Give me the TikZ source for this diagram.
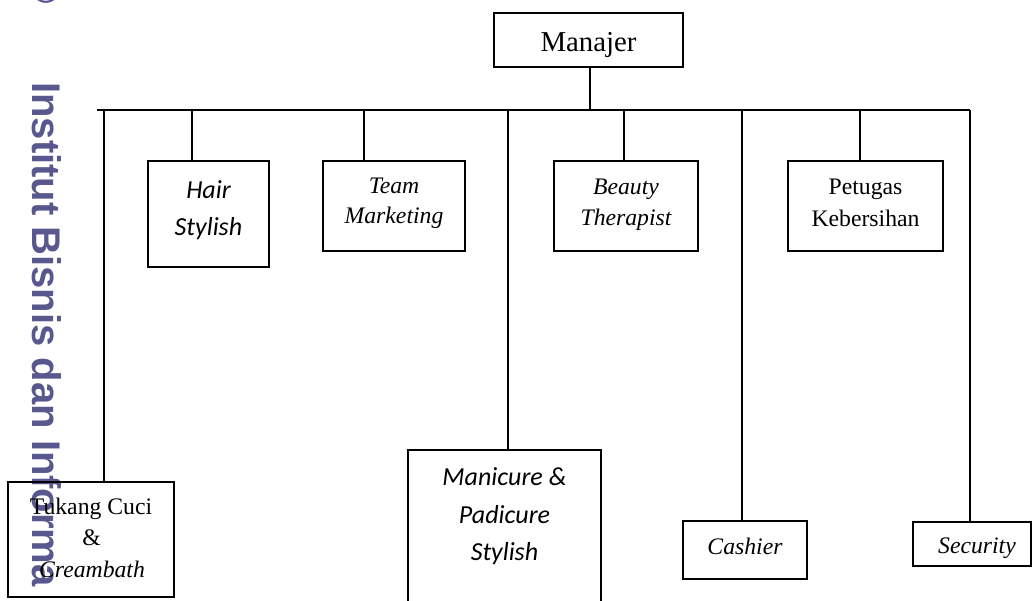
\documentclass[tikz,border=0pt]{standalone}
\usepackage{fontspec}
\setmainfont{Liberation Serif}
\newfontfamily\calfont{Carlito}
\newfontfamily\wmfont{Liberation Sans}
\definecolor{wmcol}{RGB}{88,88,142}
\begin{document}
\begin{tikzpicture}[x=1pt,y=-1pt,
  box/.style={draw,line width=1.9pt,inner sep=0pt},
  ln/.style={line width=1.9pt},
  tx/.style={anchor=base,inner sep=0pt,font=\fontsize{23.7}{28}\selectfont},
  txi/.style={tx,font=\fontsize{23.7}{28}\selectfont\itshape},
  txc/.style={anchor=base,inner sep=0pt,font=\fontsize{26}{30}\calfont\itshape},
  wm/.style={rotate=-90,anchor=base west,inner sep=0pt,text=wmcol,font=\fontsize{40}{44}\wmfont\bfseries}]
\useasboundingbox (0,0) rectangle (1032,600);
\clip (0,0) rectangle (1032,600);
% watermark
\node[wm] (wmark) at (32,82) {Institut Bisnis dan Informa};
\node[wm,anchor=base east] (wmc) at (32,4) {©};
% boxes
\node[box,minimum width=189pt,minimum height=54pt] (mgr) at (588.5,40) {};
\node[box,minimum width=121pt,minimum height=106pt] (hair) at (208.5,214) {};
\node[box,minimum width=142pt,minimum height=90pt] (team) at (394,206) {};
\node[box,minimum width=144pt,minimum height=90pt] (beauty) at (626,206) {};
\node[box,minimum width=155pt,minimum height=90pt] (petugas) at (865.5,206) {};
\node[box,minimum width=166pt,minimum height=115pt] (tukang) at (91,539.5) {};
\node[box,minimum width=193pt,minimum height=190pt] (mani) at (504.5,545) {};
\node[box,minimum width=124pt,minimum height=58pt] (cashier) at (745,550) {};
\node[box,minimum width=118pt,minimum height=44pt] (security) at (972,544) {};
% texts
\node[tx,font=\fontsize{28.8}{34}\selectfont] (mgr-t) at (588.5,51) {Manajer};
\node[txc] (hair-t1) at (208.5,198) {Hair};
\node[txc] (hair-t2) at (208.5,235) {Stylish};
\node[txi] (team-t1) at (394,193.5) {Team};
\node[txi] (team-t2) at (394,223.5) {Marketing};
\node[txi] (beauty-t1) at (626,194) {Beauty};
\node[txi] (beauty-t2) at (626,225) {Therapist};
\node[tx] (petugas-t1) at (865.5,194) {Petugas};
\node[tx] (petugas-t2) at (865.5,226) {Kebersihan};
\node[tx] (tukang-t1) at (91,514) {Tukang Cuci};
\node[tx] (tukang-t2) at (91.5,545) {\&};
\node[txi] (tukang-t3) at (92,577) {Creambath};
\node[txc] (mani-t1) at (504.5,485) {Manicure \&};
\node[txc] (mani-t2) at (504.5,523) {Padicure};
\node[txc] (mani-t3) at (504.5,560) {Stylish};
\node[txi] (cashier-t) at (745,554) {Cashier};
\node[txi] (security-t) at (977,553) {Security};
% bus
\coordinate (busL) at (97,110);
\coordinate (busR) at (970,110);
\coordinate (tm) at (590,110);
\coordinate (t1) at (104,110);
\coordinate (t2) at (192,110);
\coordinate (t3) at (364,110);
\coordinate (t4) at (508,110);
\coordinate (t5) at (624,110);
\coordinate (t6) at (742,110);
\coordinate (t7) at (860,110);
\coordinate (t8) at (970,110);
\draw[ln] (busL) -- (busR);
\draw[ln] (tm |- mgr.south) -- (tm);
\draw[ln] (t1) -- (t1 |- tukang.north);
\draw[ln] (t2) -- (t2 |- hair.north);
\draw[ln] (t3) -- (t3 |- team.north);
\draw[ln] (t4) -- (t4 |- mani.north);
\draw[ln] (t5) -- (t5 |- beauty.north);
\draw[ln] (t6) -- (t6 |- cashier.north);
\draw[ln] (t7) -- (t7 |- petugas.north);
\draw[ln] (t8) -- (t8 |- security.north);
\end{tikzpicture}
\end{document}
